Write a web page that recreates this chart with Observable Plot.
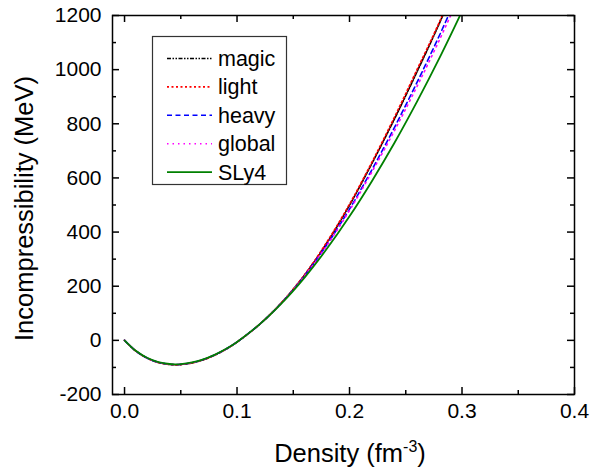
<!DOCTYPE html>
<html>
<head>
<meta charset="utf-8">
<script src="https://cdn.jsdelivr.net/npm/d3@7"></script>
<script src="https://cdn.jsdelivr.net/npm/@observablehq/plot@0.6"></script>
<style>
  html, body { margin: 0; padding: 0; background: #fff; }
  #chart { width: 591px; height: 470px; }
</style>
</head>
<body>
<div id="chart"></div>
<script>
// ---- data ----
const density = [0, 0.005, 0.01, 0.02, 0.03, 0.04, 0.045, 0.05, 0.06, 0.07, 0.08, 0.09, 0.10, 0.12, 0.14, 0.16, 0.18, 0.20, 0.22, 0.24, 0.26, 0.28, 0.30];
const magic  = [0, -20.7, -39.1, -65.5, -81.4, -88.9, -90.0, -89.3, -83.1, -71.6, -54.7, -33.0, -6.4, 59.0, 141.0, 241.0, 361.0, 499.0, 654.0, 818.0, 992.0, 1172.0, 1368.0];
const light  = [0, -20.8, -39.3, -65.8, -81.8, -89.3, -90.4, -89.7, -83.5, -72.0, -55.0, -33.2, -6.5, 59.0, 141.5, 242.0, 364.0, 503.0, 659.0, 825.0, 1000.0, 1177.0, 1375.0];
const heavy  = [0, -20.6, -38.9, -65.1, -80.9, -88.3, -89.3, -88.6, -82.4, -71.0, -54.2, -32.6, -6.1, 59.0, 140.0, 238.0, 354.0, 485.0, 631.0, 787.0, 953.0, 1127.0, 1314.0];
const global = [0, -20.5, -38.8, -64.9, -80.6, -88.0, -89.0, -88.3, -82.1, -70.7, -54.0, -32.4, -6.0, 59.0, 140.0, 237.0, 351.0, 480.0, 623.0, 775.0, 938.0, 1110.0, 1294.0];
const sly4   = [0, -20.4, -38.5, -64.5, -80.1, -87.4, -88.4, -87.7, -81.5, -70.1, -53.4, -32.0, -5.7, 59.0, 138.4, 231.9, 339.0, 458.0, 588.9, 729.7, 881.7, 1043.3, 1215.3];

const seriesNames  = ["magic", "light", "heavy", "global", "SLy4"];
const seriesValues = [magic, light, heavy, global, sly4];
const seriesColors = ["#000000", "#ff0000", "#0000ff", "#ff00ff", "#008000"];
const seriesDashes = ["4,1.5,1.5,1.5,1.5,1.5", "2,2.5", "5,3.5", "1.5,4", null];

const xMajor = [0, 0.1, 0.2, 0.3, 0.4];
const xMinor = [0.05, 0.15, 0.25, 0.35];
const yMajor = [-200, 0, 200, 400, 600, 800, 1000, 1200];
const yMinor = [-100, 100, 300, 500, 700, 900, 1100];

const xTitle = "Density (fm";
const xTitleSup = "-3";
const yTitle = "Incompressibility (MeV)";

// ---- build ----
const font = "'Liberation Sans', Arial, sans-serif";
const W = 591, H = 470;
const mL = 112, mR = 17, mT = 15, mB = 76;
const pw = W - mL - mR, ph = H - mT - mB;

const lineMarks = seriesNames.map((name, i) => {
  const rows = density.map((d, j) => ({d, k: seriesValues[i][j]}));
  return Plot.line(rows, {
    x: "d", y: "k",
    stroke: seriesColors[i],
    strokeWidth: name === "SLy4" ? 1.8 : 1.6,
    strokeDasharray: seriesDashes[i] || undefined,
    curve: "catmull-rom",
    clip: true
  });
});

const chart = Plot.plot({
  width: W, height: H,
  marginLeft: mL, marginRight: mR, marginTop: mT, marginBottom: mB,
  style: {fontFamily: font, fontSize: "21px", color: "#000", background: "#fff", overflow: "visible"},
  x: {domain: [-0.0107, 0.4]},
  y: {domain: [-200, 1200]},
  marks: [
    ...lineMarks,
    Plot.frame({stroke: "#000", strokeWidth: 1.5}),
    // inward ticks: bottom
    Plot.tickX(xMajor, {x: d => d, insetTop: ph - 7, stroke: "#000", strokeWidth: 1.5}),
    Plot.tickX(xMinor, {x: d => d, insetTop: ph - 4, stroke: "#000", strokeWidth: 1.5}),
    // top
    Plot.tickX(xMajor, {x: d => d, insetBottom: ph - 7, stroke: "#000", strokeWidth: 1.5}),
    Plot.tickX(xMinor, {x: d => d, insetBottom: ph - 4, stroke: "#000", strokeWidth: 1.5}),
    // left
    Plot.tickY(yMajor, {y: d => d, insetRight: pw - 7, stroke: "#000", strokeWidth: 1.5}),
    Plot.tickY(yMinor, {y: d => d, insetRight: pw - 4, stroke: "#000", strokeWidth: 1.5}),
    // right
    Plot.tickY(yMajor, {y: d => d, insetLeft: pw - 7, stroke: "#000", strokeWidth: 1.5}),
    Plot.tickY(yMinor, {y: d => d, insetLeft: pw - 4, stroke: "#000", strokeWidth: 1.5}),
    Plot.axisX({ticks: xMajor, tickSize: 0, tickPadding: 9, tickFormat: d => d.toFixed(1), label: null, fontSize: 21}),
    Plot.axisY({ticks: yMajor, tickSize: 0, tickPadding: 11, tickFormat: d => String(d), label: null, fontSize: 21})
  ]
});

const svg = d3.select(chart);

// axis titles
const xt = svg.append("text")
  .attr("x", 350).attr("y", 462)
  .attr("text-anchor", "middle")
  .attr("font-family", font).attr("font-size", 25.5).attr("fill", "#000");
xt.append("tspan").text(xTitle);
xt.append("tspan").attr("font-size", 16).attr("dy", -10).text(xTitleSup);
xt.append("tspan").attr("dy", 10).text(")");

svg.append("text")
  .attr("transform", `translate(33,${(76 + 341) / 2}) rotate(-90)`)
  .attr("text-anchor", "middle")
  .attr("font-family", font).attr("font-size", 25.5).attr("fill", "#000")
  .text(yTitle);

// legend
const lg = svg.append("g").attr("text-anchor", "start");
lg.append("rect")
  .attr("x", 152.5).attr("y", 36.5).attr("width", 134).attr("height", 148)
  .attr("fill", "#fff").attr("stroke", "#333").attr("stroke-width", 1.2);
seriesNames.forEach((name, i) => {
  const cy = 58.5 + i * 28.4;
  lg.append("line")
    .attr("x1", 167).attr("x2", 212).attr("y1", cy).attr("y2", cy)
    .attr("stroke", seriesColors[i])
    .attr("stroke-width", name === "SLy4" ? 1.8 : 1.6)
    .attr("stroke-dasharray", seriesDashes[i]);
  lg.append("text")
    .attr("x", 218).attr("y", cy + 7.5)
    .attr("text-anchor", "start")
    .attr("font-family", font).attr("font-size", 21.5).attr("fill", "#000")
    .text(name);
});

document.getElementById("chart").appendChild(chart);
</script>
</body>
</html>
